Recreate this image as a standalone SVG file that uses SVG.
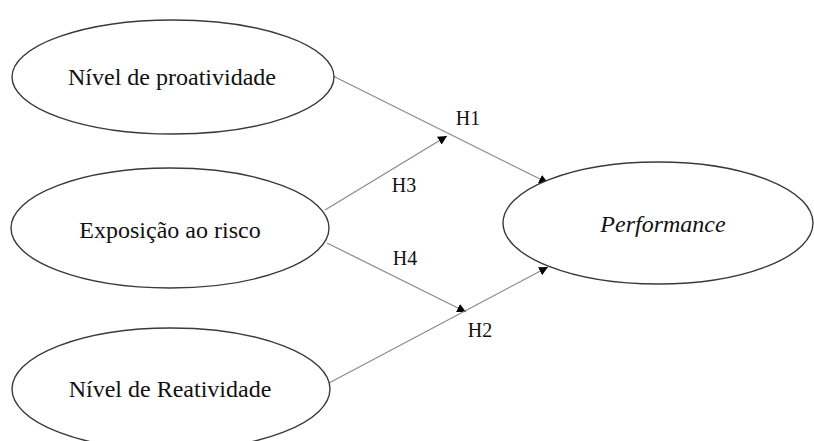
<svg xmlns="http://www.w3.org/2000/svg" width="814" height="441" viewBox="0 0 814 441">
<style>
.node ellipse{fill:#fff;stroke:#3a3a3a;stroke-width:1.4}
.t{font-family:"Liberation Serif","Times New Roman",serif;font-size:24px;fill:#111;text-anchor:middle}
.lbl{font-family:"Liberation Serif","Times New Roman",serif;font-size:20px;fill:#111;text-anchor:middle}
.conn line{stroke:#8a8a8a;stroke-width:1.2;fill:none}
</style>
<defs>
<marker id="arr" viewBox="0 0 10 10" refX="10" refY="5" markerWidth="9" markerHeight="9" markerUnits="userSpaceOnUse" orient="auto">
<path d="M0,0 L10,5 L0,10 z" fill="#000"/>
</marker>
</defs>
<rect width="814" height="441" fill="#fff"/>
<g id="connectors" class="conn">
<line x1="331" y1="75" x2="548" y2="183" marker-end="url(#arr)"/>
<line x1="325" y1="210" x2="447" y2="136" marker-end="url(#arr)"/>
<line x1="327" y1="243" x2="466" y2="312" marker-end="url(#arr)"/>
<line x1="329" y1="383" x2="548" y2="267" marker-end="url(#arr)"/>
</g>
<g id="n1" class="node">
<ellipse cx="173" cy="77" rx="161" ry="57"/>
<text class="t" x="172" y="85">Nível de proatividade</text>
</g>
<g id="n2" class="node">
<ellipse cx="170" cy="228" rx="159" ry="60"/>
<text class="t" x="170" y="238">Exposição ao risco</text>
</g>
<g id="n3" class="node">
<ellipse cx="171" cy="389" rx="159" ry="61"/>
<text class="t" x="170" y="397">Nível de Reatividade</text>
</g>
<g id="n4" class="node">
<ellipse cx="658" cy="223" rx="155" ry="61"/>
<text class="t" x="663" y="232" font-style="italic">Performance</text>
</g>
<g id="labels">
<text class="lbl" x="468" y="125">H1</text>
<text class="lbl" x="404" y="192">H3</text>
<text class="lbl" x="405" y="265">H4</text>
<text class="lbl" x="480" y="337">H2</text>
</g>
</svg>
